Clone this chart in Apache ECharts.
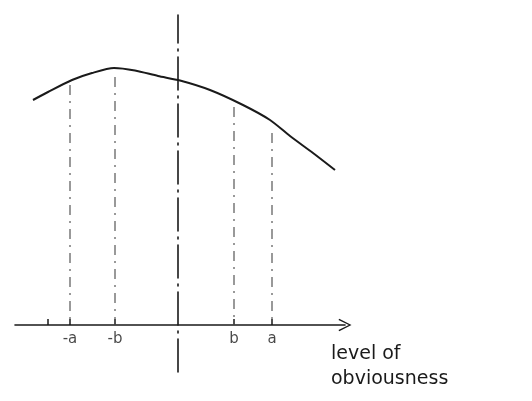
<!DOCTYPE html>
<html>
<head>
<meta charset="utf-8">
<script src="https://cdn.jsdelivr.net/npm/echarts@6/dist/echarts.min.js"></script>
<style>html,body{margin:0;padding:0;background:#fff}#c{width:532px;height:401px}</style>
</head>
<body>
<div id="c"></div>
<script>
// Curve (sketch units)
var curveX = [-14.5, -13.0, -10.6, -8.6, -6.4, -4.3, -2.0, 0.2, 3.2, 6.5, 9.2, 11.2, 13.5, 15.7];
var curveY = [22.5, 23.3, 24.5, 25.2, 25.7, 25.45, 24.9, 24.45, 23.5, 22.0, 20.5, 18.9, 17.2, 15.5];
// Marked levels on the axis
var markLabels = ['-a', '-b', 'b', 'a'];
var markX = [-10.8, -6.3, 5.6, 9.4];
var guideTop = [24.0, 24.8, 21.8, 19.2];
var extraTickX = [-13.0];
var axisName = 'level of\nobviousness';

var chart = echarts.init(document.getElementById('c'), null, {renderer: 'canvas'});
var ink = '#1a1a1a';
var series = [{
  type: 'line', smooth: 0.25, showSymbol: false, silent: true,
  data: curveX.map(function (x, i) { return [x, curveY[i]]; }),
  lineStyle: {color: ink, width: 2}, z: 5
}];
markX.forEach(function (x, i) {
  series.push({
    type: 'line', showSymbol: false, silent: true,
    data: [[x, guideTop[i]], [x, 0]],
    lineStyle: {color: '#555', width: 1.2, type: [10, 6, 2, 6]}, z: 3
  });
});
series.push({
  type: 'scatter', silent: true, symbolSize: 1,
  itemStyle: {color: 'rgba(0,0,0,0)'},
  data: markX.map(function (x, i) { return {value: [x, 0], name: markLabels[i]}; }),
  label: {
    show: true, position: 'bottom', distance: 6,
    formatter: function (p) { return p.name; },
    fontFamily: 'DejaVu Sans', fontSize: 15, color: '#1a1a1a'
  }
});

chart.setOption({
  animation: false,
  grid: {left: 15, top: 15, width: 330, height: 357, containLabel: false},
  xAxis: {
    type: 'value', min: -16.3, max: 16.7,
    splitLine: {show: false},
    axisLine: {
      show: true, onZero: true,
      symbol: ['none', 'path://M0,10 L5,0 L10,10 L9,10.6 L5,2.2 L1,10.6 Z'],
      symbolSize: [16, 13],
      lineStyle: {color: ink, width: 1.6}
    },
    axisTick: {show: true, inside: true, length: 6, customValues: extraTickX.concat(markX), lineStyle: {color: ink, width: 1.5}},
    axisLabel: {show: false}
  },
  yAxis: {
    type: 'value', min: -4.7, max: 31.0,
    splitLine: {show: false},
    axisLine: {show: true, onZero: true, lineStyle: {color: ink, width: 1.6, type: [33, 6, 2, 6]}},
    axisTick: {show: false},
    axisLabel: {show: false}
  },
  graphic: [{
    type: 'text', left: 331, top: 342, silent: true,
    style: {text: axisName, fontFamily: 'DejaVu Sans', fontSize: 19, lineHeight: 25, fill: '#1a1a1a'}
  }],
  series: series
});
</script>
</body>
</html>
